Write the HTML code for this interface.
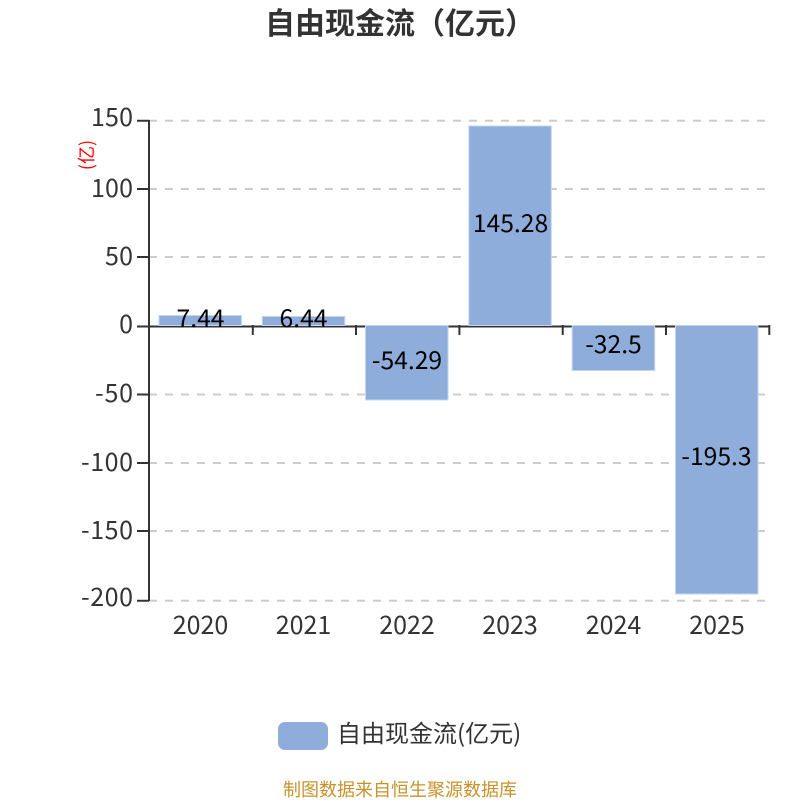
<!DOCTYPE html>
<html><head><meta charset="utf-8"><style>
html,body{margin:0;padding:0;background:#fff}
svg{display:block}
text{font-family:"Liberation Sans","Noto Sans CJK SC",sans-serif}
.n{font-family:"Noto Sans CJK SC",sans-serif;font-size:25px;fill:#333}
.l{font-family:"Noto Sans CJK SC",sans-serif;font-size:24.7px;fill:#000;text-anchor:middle}
.c{font-family:"Noto Sans CJK SC",sans-serif}
</style></head><body>
<svg width="800" height="800" viewBox="0 0 800 800" xmlns="http://www.w3.org/2000/svg">
<rect width="800" height="800" fill="#fff"/>
<text class="c" x="400" y="34" text-anchor="middle" font-size="30" font-weight="700" fill="#333">自由现金流（亿元）</text>
<g stroke="#ccc" stroke-width="2" stroke-dasharray="8 8">
<path d="M149 120.800H766M149 189H766M149 257H766M149 394.500H766M149 463H766M149 531H766M149 600.800H766"/>
</g>
<g stroke="#333" stroke-width="2" fill="none">
<path d="M149 120V601"/>
<path d="M137 120.800H149M137 189H149M137 257H149M137 326.500H149M137 394.500H149M137 463H149M137 531H149M137 600.800H149"/>
<path d="M149 326.500H770"/>
<path d="M252.800 325v10M356 325v10M459.400 325v10M562.700 325v10M666 325v10M769.300 325v10"/>
</g>
<g fill="#8eadda" stroke="#c4d5ee" stroke-width="1">
<rect x="159" y="315.500" width="82.500" height="10"/>
<rect x="262.300" y="316.500" width="82.500" height="9"/>
<rect x="365.500" y="325.500" width="82.500" height="74.500"/>
<rect x="468.800" y="126" width="82.500" height="199.500"/>
<rect x="572.200" y="325.500" width="82.500" height="45"/>
<rect x="675.500" y="325.500" width="82.500" height="268.500"/>
</g>
<g class="n" text-anchor="end">
<text class="n" x="133" y="126" textLength="42">150</text>
<text class="n" x="133" y="197" textLength="42">100</text>
<text class="n" x="133" y="265" textLength="28">50</text>
<text class="n" x="133" y="333">0</text>
<text class="n" x="133" y="402" textLength="38">-50</text>
<text class="n" x="133" y="471" textLength="52">-100</text>
<text class="n" x="133" y="539" textLength="52">-150</text>
<text class="n" x="133" y="606" textLength="52">-200</text>
</g>
<text transform="translate(93,155) rotate(-90)" text-anchor="middle" font-size="18" fill="#f00" class="c">(亿)</text>
<g class="n" text-anchor="middle">
<text class="n" x="200.500" y="634">2020</text>
<text class="n" x="303.500" y="634">2021</text>
<text class="n" x="407" y="634">2022</text>
<text class="n" x="510" y="634">2023</text>
<text class="n" x="613.500" y="634">2024</text>
<text class="n" x="717" y="634">2025</text>
</g>
<text class="l" x="200.500" y="327">7.44</text>
<text class="l" x="303.500" y="327">6.44</text>
<text class="l" x="407" y="369">-54.29</text>
<text class="l" x="510.500" y="232">145.28</text>
<text class="l" x="613.500" y="353">-32.5</text>
<text class="l" x="716.500" y="465">-195.3</text>
<rect x="278" y="722" width="50" height="28" rx="7" ry="7" fill="#8eadda"/>
<text class="c" x="337" y="742" font-size="24" fill="#333">自由现金流(亿元)</text>
<text class="c" x="400" y="796" text-anchor="middle" font-size="18" fill="#c8922b">制图数据来自恒生聚源数据库</text>
</svg>
</body></html>
